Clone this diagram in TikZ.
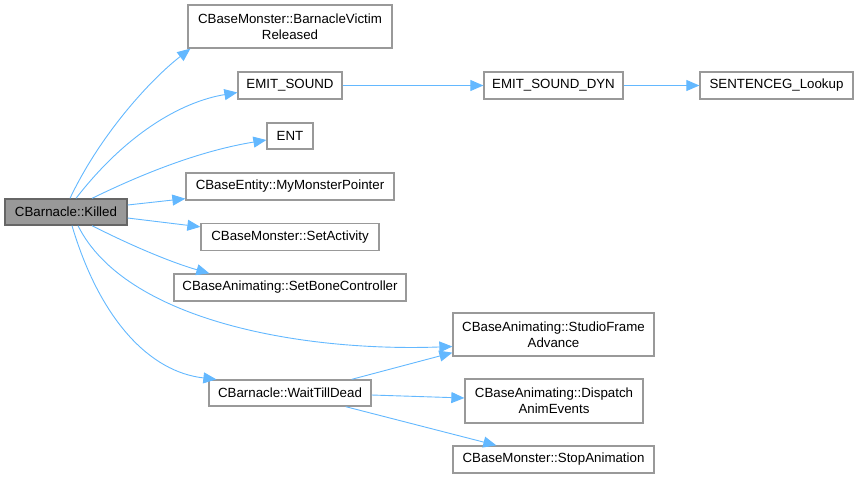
\documentclass[tikz,border=0pt]{standalone}
\usepackage{fontspec}
\setmainfont{Liberation Sans}
\usepackage{tikz}
\usetikzlibrary{arrows.meta}

\definecolor{edgeblue}{HTML}{63B8FF}
\definecolor{boxgray}{HTML}{999999}
\definecolor{rootgray}{HTML}{666666}

\tikzset{
  fn/.style={draw=boxgray, line width=1.3pt, fill=white, inner sep=0pt, align=center},
  rootfn/.style={fn, draw=rootgray, fill=boxgray},
  call/.style={draw=edgeblue, line width=0.9pt, -{Triangle[length=13pt, width=11pt]}}
}

\begin{document}
\begin{tikzpicture}[x=1pt, y=-1pt, font=\fontsize{13.3}{16}\selectfont]
  \useasboundingbox (0,0) rectangle (858,479);
  % caller
  \node[rootfn, minimum width=122pt, minimum height=26pt] (killed) at (66,212) {CBarnacle::Killed};
  % callees
  \node[fn, minimum width=204pt, minimum height=43pt] (victim) at (290,26.5) {CBaseMonster::BarnacleVictim\\Released};
  \node[fn, minimum width=104pt, minimum height=27pt] (emit) at (290,85.5) {EMIT\_SOUND};
  \node[fn, minimum width=139pt, minimum height=27pt] (emitdyn) at (553.5,85.5) {EMIT\_SOUND\_DYN};
  \node[fn, minimum width=153pt, minimum height=27pt] (lookup) at (776.5,85.5) {SENTENCEG\_Lookup};
  \node[fn, minimum width=46pt, minimum height=26pt] (ent) at (290,136) {ENT};
  \node[fn, minimum width=208pt, minimum height=27pt] (monptr) at (290,186.5) {CBaseEntity::MyMonsterPointer};
  \node[fn, minimum width=178pt, minimum height=27pt] (setact) at (290,237) {CBaseMonster::SetActivity};
  \node[fn, minimum width=232pt, minimum height=27pt] (bonectl) at (290,287.5) {CBaseAnimating::SetBoneController};
  \node[fn, minimum width=201pt, minimum height=43pt] (frameadv) at (553.5,334.5) {CBaseAnimating::StudioFrame\\Advance};
  \node[fn, minimum width=162pt, minimum height=26pt] (waitdead) at (290,393) {CBarnacle::WaitTillDead};
  \node[fn, minimum width=178pt, minimum height=44pt] (dispatch) at (554,401) {CBaseAnimating::Dispatch\\AnimEvents};
  \node[fn, minimum width=201pt, minimum height=27pt] (stopanim) at (553.5,459.5) {CBaseMonster::StopAnimation};

  % calls from CBarnacle::Killed
  \draw[call] ([xshift=4pt]killed.north) .. controls (100,135) and (150,80) .. ([xshift=3pt]victim.south west);
  \draw[call] ([xshift=10pt]killed.north) .. controls (125,135) and (180,102) .. ([yshift=-7pt]emit.west);
  \draw[call] ([xshift=26pt]killed.north) .. controls (150,170) and (205,150) .. ([yshift=-4pt]ent.west);
  \draw[call] ([yshift=7pt]killed.east) -- ([yshift=2pt]monptr.south west);
  \draw[call] ([yshift=-6pt]killed.east) -- ([yshift=-4pt]setact.north west);
  \draw[call] ([xshift=26pt]killed.south) .. controls (130,245) and (170,262) .. ([xshift=36pt]bonectl.north west);
  \draw[call] ([xshift=12pt]killed.south) .. controls (125,320) and (300,352) .. ([yshift=-12pt]frameadv.west);
  \draw[call] ([xshift=6pt]killed.south) .. controls (100,320) and (150,372) .. ([xshift=8pt]waitdead.north west);
  % calls further down
  \draw[call] (emit) -- (emitdyn);
  \draw[call] (emitdyn) -- (lookup);
  \draw[call] ([xshift=-20pt]waitdead.north east) -- ([yshift=4pt]frameadv.south west);
  \draw[call] ([yshift=-2pt]waitdead.east) -- ([yshift=3pt]dispatch.west);
  \draw[call] ([xshift=-26pt]waitdead.south east) -- ([xshift=44pt]stopanim.north west);
\end{tikzpicture}
\end{document}
